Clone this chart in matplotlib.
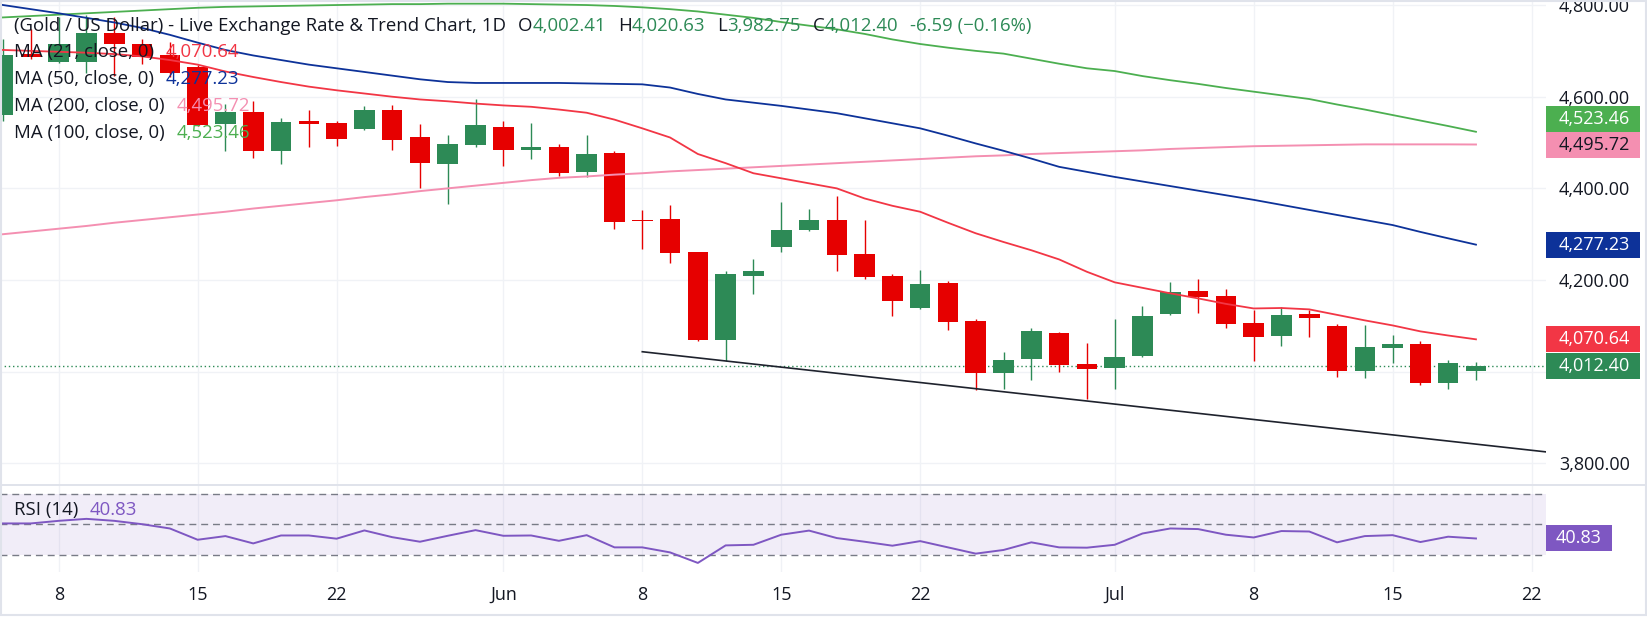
import numpy as np
import pandas as pd
import matplotlib
matplotlib.use('Agg')
import matplotlib.pyplot as plt
from matplotlib.patches import Rectangle
from matplotlib.lines import Line2D

plt.rcParams['font.family'] = ['Open Sans', 'DejaVu Sans']

# XAU/USD daily bars, 6 May - 20 Jul 2026
opens = [4560, 4694, 4675, 4675, 4738, 4716, 4691, 4665, 4541, 4567, 4481, 4547, 4543, 4530,
         4571, 4512, 4454, 4495, 4534, 4484, 4490, 4436, 4477, 4330, 4333, 4261, 4069, 4209,
         4272, 4309, 4331, 4257, 4209, 4139, 4193, 4111, 3997, 4028, 4084, 4017, 4008, 4034,
         4125, 4176, 4165, 4107, 4077, 4126, 4100, 4001, 4051, 4061, 3975, 4002.41]
highs = [4725, 4747, 4775, 4778, 4774, 4727, 4720, 4669, 4584, 4590, 4553, 4571, 4547, 4580,
         4582, 4540, 4516, 4595, 4547, 4543, 4497, 4516, 4481, 4353, 4364, 4261, 4220, 4246,
         4370, 4355, 4383, 4331, 4213, 4222, 4198, 4115, 4043, 4095, 4087, 4063, 4115, 4144,
         4196, 4202, 4180, 4135, 4141, 4135, 4104, 4103, 4081, 4068, 4025, 4020.63]
lows = [4548, 4683, 4673, 4651, 4645, 4671, 4642, 4536, 4481, 4467, 4454, 4491, 4493, 4528,
        4484, 4401, 4366, 4491, 4449, 4464, 4427, 4425, 4311, 4268, 4237, 4067, 4023, 4169,
        4261, 4307, 4220, 4202, 4121, 4137, 4091, 3961, 3962, 3982, 3999, 3940, 3962, 4033,
        4123, 4129, 4095, 4023, 4056, 4075, 3988, 3986, 4019, 3971, 3962, 3982.75]
closes = [4692, 4687, 4716, 4738, 4714, 4687, 4651, 4538, 4566, 4481, 4545, 4541, 4508, 4571,
          4505, 4455, 4497, 4538, 4484, 4490, 4434, 4475, 4327, 4328, 4259, 4069, 4213, 4220,
          4309, 4331, 4255, 4207, 4154, 4191, 4108, 3997, 4025, 4089, 4015, 4007, 4031, 4122,
          4174, 4164, 4105, 4075, 4124, 4118, 4001, 4053, 4061, 3975, 4018.99, 4012.40]

# indicators start one bar earlier (5 May) so they run into the left edge
ma21 = [4704, 4702, 4700, 4698, 4696, 4693, 4688, 4680, 4670, 4655, 4643, 4632, 4622, 4614,
        4607, 4600, 4594, 4590, 4585, 4581, 4578, 4572, 4565, 4550, 4531, 4511, 4475, 4455,
        4433, 4422, 4411, 4400, 4378, 4362, 4349, 4325, 4302, 4283, 4265, 4245, 4218, 4195,
        4183, 4171, 4160, 4148, 4138, 4139, 4136, 4124, 4112, 4101, 4088, 4079, 4070.64]
ma50 = [4810, 4800, 4791, 4782, 4772, 4762, 4750, 4735, 4718, 4702, 4690, 4680, 4670, 4662,
        4654, 4646, 4638, 4632, 4630, 4630, 4630, 4630, 4629, 4628, 4627, 4620, 4606, 4594,
        4587, 4580, 4572, 4564, 4553, 4542, 4531, 4515, 4498, 4482, 4465, 4447, 4436, 4425,
        4415, 4405, 4395, 4385, 4375, 4364, 4353, 4342, 4331, 4320, 4305, 4291, 4277.23]
ma100 = [4770, 4773, 4776, 4779, 4782, 4785, 4788, 4791, 4794, 4796, 4797, 4798, 4799, 4800,
         4801, 4802, 4802, 4803, 4803, 4803, 4802, 4801, 4800, 4798, 4795, 4791, 4786, 4779,
         4772, 4763, 4755, 4747, 4737, 4725, 4715, 4707, 4700, 4694, 4683, 4672, 4662, 4656,
         4645, 4636, 4628, 4619, 4611, 4603, 4595, 4583, 4572, 4560, 4548, 4536, 4523.46]
ma200 = [4294, 4300, 4306, 4312, 4318, 4325, 4331, 4337, 4343, 4349, 4356, 4362, 4368, 4374,
         4381, 4387, 4394, 4400, 4406, 4412, 4418, 4423, 4426, 4430, 4433, 4437, 4440, 4443,
         4446, 4449, 4452, 4455, 4458, 4461, 4464, 4467, 4470, 4472, 4475, 4477, 4479, 4481,
         4483, 4486, 4488, 4490, 4492, 4493, 4494, 4495, 4496, 4496, 4496, 4496, 4495.72]
rsi14 = [50.7, 50.7, 50.7, 52.4, 53.7, 52.4, 50.2, 47.4, 40.0, 42.4, 37.6, 42.8, 42.8, 40.7,
         46.1, 41.7, 38.7, 42.6, 46.3, 42.6, 42.8, 39.3, 43.0, 35.0, 35.0, 31.7, 24.8, 36.3,
         36.7, 43.3, 46.0, 41.1, 38.7, 36.1, 39.1, 35.0, 30.9, 33.3, 38.3, 35.0, 34.8, 36.7,
         44.1, 47.4, 47.0, 43.3, 41.5, 45.7, 45.4, 38.3, 42.4, 43.0, 38.5, 42.0, 40.83]

tick_dates = ['2026-05-08', '2026-05-15', '2026-05-22', '2026-06-01', '2026-06-08', '2026-06-15',
              '2026-06-22', '2026-07-01', '2026-07-08', '2026-07-15', '2026-07-22']
tick_labels = ['8', '15', '22', 'Jun', '8', '15', '22', 'Jul', '8', '15', '22']
price_ticks = [3800, 4000, 4200, 4400, 4600, 4800]

# hand drawn support line (anchor dates / prices), extended right
trend_dates = ['2026-06-08', '2026-07-20']
trend_prices = [4043.6, 3842.0]

TEXT = '#131722'
UP = '#2D8A56'
DN = '#E60000'
C21, C50, C100, C200 = '#F23645', '#0D3299', '#4CAF50', '#F48FB1'
CRSI = '#7E57C2'
GRID = '#F0F2F6'
FS = 13      # price / time scale
FS_LEG = 13.4  # legend lines

W, H = 1647, 627
PLOT_R = 1546
MAIN_B = 484
RSI_T, RSI_B = 485, 572

days = pd.bdate_range('2026-05-05', periods=60)
line_x = np.arange(len(ma21))
bar_x = np.arange(1, len(closes) + 1)
tick_pos = days.get_indexer(pd.to_datetime(tick_dates))
trend_idx = days.get_indexer(pd.to_datetime(trend_dates))

fig = plt.figure(figsize=(W / 100, H / 100), dpi=100)
fig.patch.set_facecolor('white')
ax = fig.add_axes([0, 1 - MAIN_B / H, PLOT_R / W, MAIN_B / H])
rx = fig.add_axes([0, 1 - RSI_B / H, PLOT_R / W, (RSI_B - RSI_T) / H], sharex=ax)

xlim = (0.888, 56.52)
ylim = (3755.0, 4811.0)
ax.set_xlim(*xlim)
ax.set_ylim(*ylim)
rx.set_ylim(18.85, 75.9)

for a in (ax, rx):
    for s in a.spines.values():
        s.set_visible(False)
    a.set_axisbelow(True)

# candles
o, hi, lo, c = map(np.array, (opens, highs, lows, closes))
cols = np.where(c >= o, UP, DN)
ax.vlines(bar_x, lo, hi, colors=cols, lw=1.0, zorder=3)
ax.bar(bar_x, np.maximum(np.abs(c - o), 2.5), bottom=np.minimum(o, c), width=0.74,
       color=cols, linewidth=0, zorder=4)

# moving averages
ax.plot(line_x, ma200, color=C200, lw=1.4, zorder=5)
ax.plot(line_x, ma100, color=C100, lw=1.3, zorder=5)
ax.plot(line_x, ma50, color=C50, lw=1.3, zorder=5)
ax.plot(line_x, ma21, color=C21, lw=1.3, zorder=5)

# trend line
slope = (trend_prices[1] - trend_prices[0]) / (trend_idx[1] - trend_idx[0])
ax.plot([trend_idx[0], xlim[1]], [trend_prices[0], trend_prices[0] + slope * (xlim[1] - trend_idx[0])],
        color='#1E222D', lw=1.2, zorder=5)

ax.axhline(closes[-1], color=UP, lw=1.0, ls=(0, (1, 2)), zorder=2)

# grid + ticks
ax.set_xticks(tick_pos)
ax.set_yticks(price_ticks)
ax.set_yticklabels(['' if v == 4000 else f'{v:,.2f}' for v in price_ticks])
ax.yaxis.tick_right()
ax.grid(True, color=GRID, lw=1)
ax.tick_params(axis='x', length=0, labelbottom=False)
ax.tick_params(axis='y', length=0, pad=9.4, labelsize=FS, labelcolor=TEXT)

rx.axhspan(30, 70, color=CRSI, alpha=0.1, lw=0)
for lv in (70, 50, 30):
    rx.axhline(lv, color='#787B86', lw=1, ls=(0, (5, 3.5)))
rx.plot(line_x, rsi14, color=CRSI, lw=1.4, zorder=5)
rx.set_yticks([])
rx.grid(True, axis='x', color=GRID, lw=1)
rx.set_xticks(tick_pos)
rx.set_xticklabels(tick_labels)
rx.tick_params(axis='x', length=0, pad=10, labelsize=FS, labelcolor=TEXT)

# price scale tags
px_per_price = MAIN_B / (ylim[1] - ylim[0])
tag_h = 26 / px_per_price
tags = [(ma100[-1], C100, 'white'), (ma200[-1], C200, TEXT), (ma50[-1], C50, 'white'),
        (ma21[-1], C21, 'white'), (closes[-1], UP, 'white')]
tags.sort(key=lambda t: t[0])
prev = -1e9
for v, fc, tc in tags:
    yc = max(v, prev + tag_h)
    prev = yc
    ax.add_patch(Rectangle((1.0, yc - tag_h / 2), 94 / PLOT_R, tag_h, transform=ax.get_yaxis_transform(),
                           fc=fc, ec='none', clip_on=False, zorder=8))
    ax.text(1.0 + 13 / PLOT_R, yc, f'{v:,.2f}', transform=ax.get_yaxis_transform(), color=tc,
            fontsize=FS, va='center', ha='left', clip_on=False, zorder=9)

rsi_px = (RSI_B - RSI_T) / (75.9 - 18.85)
rh = 26 / rsi_px
rx.add_patch(Rectangle((1.0, rsi14[-1] - rh / 2), 66 / PLOT_R, rh, transform=rx.get_yaxis_transform(),
                       fc=CRSI, ec='none', clip_on=False, zorder=8))
rx.text(1.0 + 10 / PLOT_R, rsi14[-1], f'{rsi14[-1]:.2f}', transform=rx.get_yaxis_transform(),
        color='white', fontsize=FS, va='center', ha='left', clip_on=False, zorder=9)


def legend_row(axis, x_frac, y_frac, parts):
    prev_t = None
    for s, col, gap in parts:
        if prev_t is None:
            prev_t = axis.text(x_frac, y_frac, s, transform=axis.transAxes, color=col, fontsize=FS_LEG,
                               va='center', ha='left', zorder=10)
        else:
            prev_t = axis.annotate(s, xy=(1, 0), xycoords=prev_t, xytext=(gap, 0),
                                   textcoords='offset pixels', color=col, fontsize=FS_LEG,
                                   va='bottom', ha='left', zorder=10)


chg = closes[-1] - closes[-2]
pct = chg / closes[-2] * 100
legend_row(ax, 14 / PLOT_R, 1 - 26 / MAIN_B, [
    ('(Gold / US Dollar) - Live Exchange Rate & Trend Chart, 1D', TEXT, 0),
    ('O', TEXT, 12), (f'{opens[-1]:,.2f}', UP, 0),
    ('H', TEXT, 12), (f'{highs[-1]:,.2f}', UP, 0),
    ('L', TEXT, 12), (f'{lows[-1]:,.2f}', UP, 0),
    ('C', TEXT, 12), (f'{closes[-1]:,.2f}', UP, 0),
    (f'{chg:.2f} (\u2212{abs(pct):.2f}%)', UP, 12)])
rows = [('MA (21, close, 0)', ma21[-1], C21), ('MA (50, close, 0)', ma50[-1], C50),
        ('MA (200, close, 0)', ma200[-1], C200), ('MA (100, close, 0)', ma100[-1], C100)]
for k, (lab, val, col) in enumerate(rows):
    y_px = 52 + k * 27
    legend_row(ax, 14 / PLOT_R, 1 - y_px / MAIN_B, [(lab, TEXT, 0), (f'{val:,.2f}', col, 12)])
legend_row(rx, 14 / PLOT_R, 1 - (510 - RSI_T) / (RSI_B - RSI_T),
           [('RSI (14)', TEXT, 0), (f'{rsi14[-1]:.2f}', CRSI, 11)])

# pane separator and outer frame
fig.add_artist(Line2D([0, 1645 / W], [1 - 484.5 / H] * 2, transform=fig.transFigure,
                      color='#E0E3EB', lw=1.4))
fig.add_artist(Rectangle((0.5 / W, 1 - 615 / H), 1645 / W, 614.5 / H, transform=fig.transFigure,
                         fill=False, ec='#E0E3EB', lw=1.5))

fig.savefig('out.png', dpi=100)
